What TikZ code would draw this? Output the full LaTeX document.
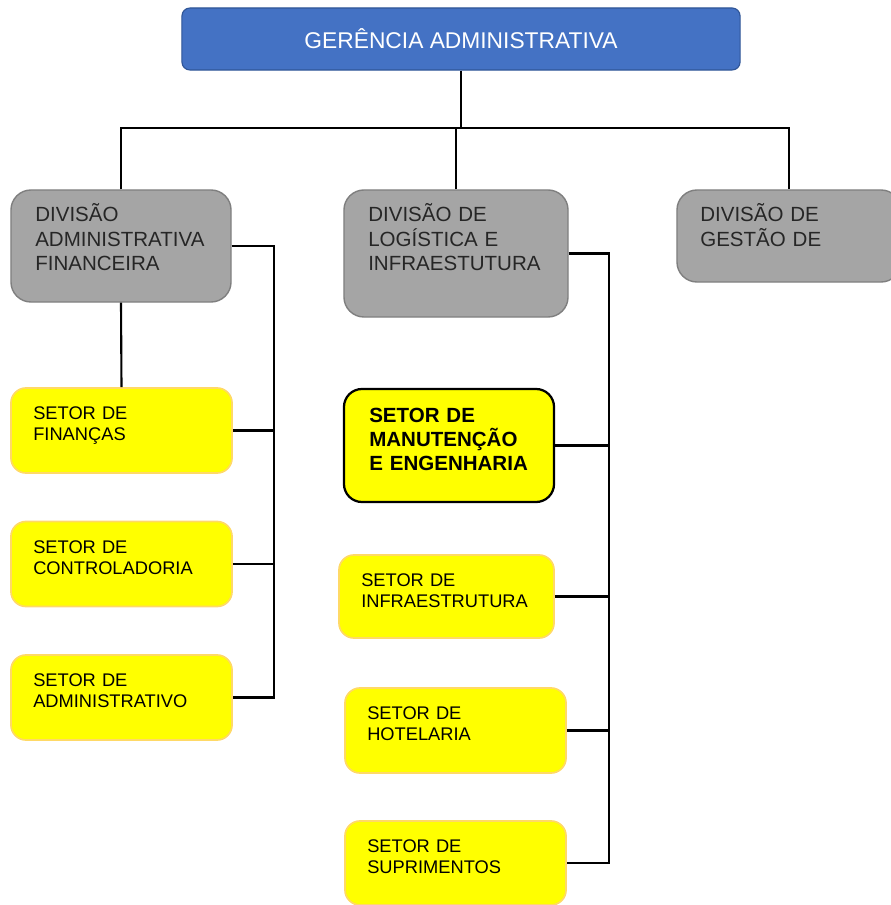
\documentclass[tikz,border=0pt]{standalone}
\usepackage{fontspec}
\setmainfont{Liberation Sans}
\usepackage{xcolor}
\usetikzlibrary{positioning,calc}

\definecolor{azulger}{HTML}{4472C4}
\definecolor{azulborda}{HTML}{2F5597}
\definecolor{cinzadiv}{HTML}{A5A5A5}
\definecolor{cinzaborda}{HTML}{7F7F7F}
\definecolor{amarelosetor}{HTML}{FFFF00}
\definecolor{amareloborda}{HTML}{FFD966}
\definecolor{textodiv}{HTML}{262626}

\begin{document}
\begin{tikzpicture}[
    x=0.025cm, y=-0.025cm,
    gerbox/.style={
        draw=azulborda,
        fill=azulger,
        rounded corners=0.2cm,
        line width=0.8pt,
        inner sep=0pt,
        minimum width=13.95cm,
        minimum height=1.55cm,
        text=white,
        font=\fontsize{16.2}{19}\selectfont
    },
    divbox/.style={
        draw=cinzaborda,
        fill=cinzadiv,
        rounded corners=0.5cm,
        line width=1pt,
        inner sep=0pt,
        minimum width=5.5cm,
        minimum height=2.8cm
    },
    divtext/.style={
        anchor=base west,
        inner sep=0pt,
        text width=5cm,
        align=left,
        text=textodiv,
        font=\fontsize{14.6}{17.4}\selectfont
    },
    setorbox/.style={
        draw=amareloborda,
        fill=amarelosetor,
        rounded corners=0.375cm,
        line width=1.2pt,
        inner sep=0pt,
        minimum width=5.525cm,
        minimum height=2.125cm
    },
    setortext/.style={
        anchor=base west,
        inner sep=0pt,
        text width=4.8cm,
        align=left,
        text=black,
        font=\fontsize{13}{15.4}\selectfont
    },
    destaquebox/.style={
        setorbox,
        draw=black,
        line width=1.6pt,
        rounded corners=0.45cm
    },
    destaquetext/.style={
        setortext,
        font=\bfseries\fontsize{14.6}{17.4}\selectfont
    },
    linha/.style={
        black,
        line width=1.5pt
    }
]

% page frame
\useasboundingbox (0,0) rectangle (891,905);

% top management
\node[gerbox] (ger) at (461,39) {GERÊNCIA ADMINISTRATIVA};

% divisions
\node[divbox] (dfin) at (121,246) {};
\node[divtext] (dfintxt) at (35,222) {DIVISÃO\\ADMINISTRATIVA\\FINANCEIRA};

\node[divbox, minimum width=5.6cm, minimum height=3.175cm] (dlog) at (456,253.5) {};
\node[divtext] (dlogtxt) at (368,222) {DIVISÃO DE\\LOGÍSTICA E\\INFRAESTUTURA};

\node[divbox, minimum width=5.6cm, minimum height=2.3cm] (dges) at (789,236) {};
\node[divtext] (dgestxt) at (700,222) {DIVISÃO DE\\GESTÃO DE};

% bus under the management box
\coordinate (bus) at (0,128);
\draw[linha] (ger.south) -- (ger.south |- bus);
\draw[linha] (dfin.north) |- (dges.north |- bus) -- (dges.north);
\draw[linha] (dlog.north) -- (dlog.north |- bus);

% sectors of the financial division
\node[setorbox] (sfin) at (121.5,430.5) {};
\node[setortext] (sfintxt) at (33,419) {SETOR DE\\FINANÇAS};

\node[setorbox] (sctr) at (121.5,564) {};
\node[setortext] (sctrtxt) at (33,553) {SETOR DE\\CONTROLADORIA};

\node[setorbox] (sadm) at (121.5,697.5) {};
\node[setortext] (sadmtxt) at (33,686) {SETOR DE\\ADMINISTRATIVO};

% sectors of the logistics division
\node[destaquebox, minimum width=5.25cm, minimum height=2.825cm] (sman) at (449,445.5) {};
\node[destaquetext] (smantxt) at (369,422) {SETOR DE\\MANUTENÇÃO\\E ENGENHARIA};

\node[setorbox, minimum width=5.375cm, minimum height=2.075cm] (sinf) at (446.5,596.5) {};
\node[setortext] (sinftxt) at (361,586) {SETOR DE\\INFRAESTRUTURA};

\node[setorbox] (shot) at (455.5,730.5) {};
\node[setortext] (shottxt) at (367,719) {SETOR DE\\HOTELARIA};

\node[setorbox, minimum height=2.1cm] (ssup) at (455.5,863) {};
\node[setortext] (ssuptxt) at (367,852) {SETOR DE\\SUPRIMENTOS};

% left spine
\coordinate (lspine) at (274,0);
\draw[linha] (dfin.south) -- (sfin.north);
\draw[linha] (dfin.east) -| (lspine |- sadm.east) -- (sadm.east);
\draw[linha] (sfin.east) -- (lspine |- sfin.east);
\draw[linha] (sctr.east) -- (lspine |- sctr.east);

% middle spine
\coordinate (mspine) at (609,0);
\draw[linha] (dlog.east) -| (mspine |- ssup.east) -- (ssup.east);
\draw[linha] (sman.east) -- (mspine |- sman.east);
\draw[linha] (sinf.east) -- (mspine |- sinf.east);
\draw[linha] (shot.east) -- (mspine |- shot.east);

\end{tikzpicture}
\end{document}
